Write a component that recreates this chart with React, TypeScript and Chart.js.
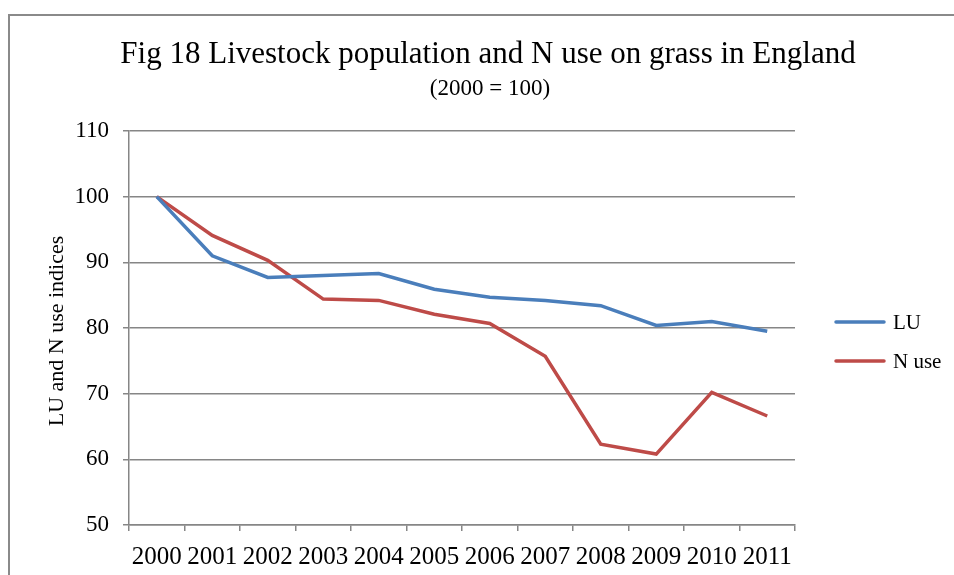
import React, { useEffect, useRef } from "react";
import { Chart, registerables } from "chart.js";

Chart.register(...registerables);

const years = ["2000", "2001", "2002", "2003", "2004", "2005", "2006", "2007", "2008", "2009", "2010", "2011"];
const luValues = [100, 91.0, 87.7, 88.0, 88.3, 85.9, 84.7, 84.2, 83.4, 80.4, 81.0, 79.5];
const nUseValues = [100, 94.1, 90.3, 84.4, 84.2, 82.1, 80.7, 75.7, 62.3, 60.8, 70.2, 66.6];
const seriesNames = ["LU", "N use"];
const titleText = "Fig 18 Livestock population and N use on grass in England";
const subtitleText = "(2000 = 100)";
const yAxisTitle = "LU and N use indices";

const SERIF = "'Liberation Serif', 'Times New Roman', serif";
const GRID = "#868686";

const overlayPlugin = {
  id: "overlay",
  beforeDraw(chart: any) {
    const ctx = chart.ctx;
    ctx.save();
    ctx.fillStyle = "#ffffff";
    ctx.fillRect(0, 0, chart.width, chart.height);
    ctx.strokeStyle = "#8a8a8a";
    ctx.lineWidth = 2;
    ctx.strokeRect(9, 15, 2000, 2000);
    ctx.restore();
  },
  afterDraw(chart: any) {
    const ctx = chart.ctx;
    ctx.save();
    ctx.fillStyle = "#000";
    ctx.textAlign = "center";
    ctx.textBaseline = "alphabetic";
    ctx.font = `31px ${SERIF}`;
    ctx.fillText(titleText, 488, 63);
    ctx.font = `23px ${SERIF}`;
    ctx.fillText(subtitleText, 490, 95);

    // y axis title
    ctx.save();
    ctx.translate(57, 331);
    ctx.rotate(-Math.PI / 2);
    ctx.textBaseline = "middle";
    ctx.font = `22px ${SERIF}`;
    ctx.fillText(yAxisTitle, 0, 0);
    ctx.restore();

    // legend
    const legendY = [322, 361];
    chart.data.datasets.forEach((ds: any, i: number) => {
      const y = legendY[i];
      ctx.strokeStyle = ds.borderColor;
      ctx.lineWidth = 3.5;
      ctx.lineCap = "round";
      ctx.beginPath();
      ctx.moveTo(836, y);
      ctx.lineTo(884, y);
      ctx.stroke();
      ctx.fillStyle = "#000";
      ctx.textAlign = "left";
      ctx.textBaseline = "middle";
      ctx.font = `21px ${SERIF}`;
      ctx.fillText(ds.label, 893, y + 1);
    });
    ctx.restore();
  },
};

export default function App() {
  const ref = useRef<HTMLCanvasElement | null>(null);
  useEffect(() => {
    if (!ref.current) return;
    const chart = new Chart(ref.current, {
      type: "line",
      data: {
        labels: years,
        datasets: [
          {
            label: seriesNames[0],
            data: luValues,
            borderColor: "#4A7EBB",
            backgroundColor: "#4A7EBB",
            borderWidth: 3.5,
            pointRadius: 0,
            tension: 0,
          },
          {
            label: seriesNames[1],
            data: nUseValues,
            borderColor: "#BE4B48",
            backgroundColor: "#BE4B48",
            borderWidth: 3.5,
            pointRadius: 0,
            tension: 0,
          },
        ],
      },
      options: {
        animation: false,
        responsive: false,
        devicePixelRatio: 1,
        layout: { padding: { left: 0, top: 131, right: 159, bottom: 0 } },
        plugins: {
          legend: { display: false },
          title: { display: false },
          tooltip: { enabled: false },
        },
        scales: {
          x: {
            type: "category",
            offset: true,
            grid: {
              offset: true,
              drawOnChartArea: false,
              drawTicks: true,
              tickLength: 6,
              color: GRID,
              lineWidth: 1.5,
            },
            border: { display: true, color: GRID, width: 1.5 },
            ticks: {
              color: "#000",
              font: { family: SERIF, size: 25 },
              padding: 11,
              maxRotation: 0,
              autoSkip: false,
            },
            afterFit: (scale: any) => {
              scale.height = 50;
            },
          },
          y: {
            min: 50,
            max: 110,
            grid: {
              color: GRID,
              lineWidth: 1.5,
              tickLength: 6,
              drawTicks: true,
            },
            border: { display: true, color: GRID, width: 1.5 },
            ticks: {
              stepSize: 10,
              color: "#000",
              font: { family: SERIF, size: 23 },
              padding: 14,
            },
            afterFit: (scale: any) => {
              scale.width = 129;
            },
          },
        },
      },
      plugins: [overlayPlugin],
    });
    return () => chart.destroy();
  }, []);
  return (
    <div style={{ position: "absolute", left: 0, top: 0, width: 954, height: 575 }}>
      <canvas ref={ref} width={954} height={575} style={{ display: "block" }} />
    </div>
  );
}
